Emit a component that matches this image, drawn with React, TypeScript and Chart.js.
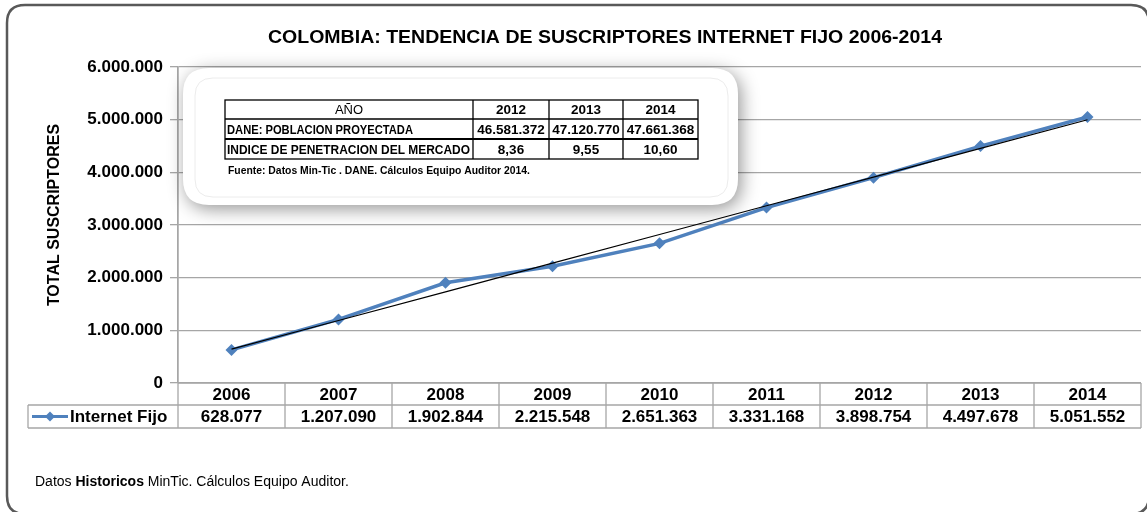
import React, { useEffect, useRef } from "react";
import { Chart, registerables } from "chart.js";

Chart.register(...registerables);

const chartTitle = "COLOMBIA: TENDENCIA DE SUSCRIPTORES INTERNET FIJO 2006-2014";
const yAxisTitle = "TOTAL SUSCRIPTORES";
const seriesName = "Internet Fijo";
const years = ["2006", "2007", "2008", "2009", "2010", "2011", "2012", "2013", "2014"];
const internetFijo = [628077, 1207090, 1902844, 2215548, 2651363, 3331168, 3898754, 4497678, 5051552];
const yMin = 0;
const yMax = 6000000;
const yStep = 1000000;

const insetHeader = "AÑO";
const insetYears = ["2012", "2013", "2014"];
const poblacionLabel = "DANE: POBLACION PROYECTADA";
const poblacionProyectada = [46581372, 47120770, 47661368];
const penetracionLabel = "INDICE DE PENETRACION DEL MERCADO";
const indicePenetracion = [8.36, 9.55, 10.6];
const insetSource = "Fuente: Datos Min-Tic . DANE. Cálculos Equipo Auditor 2014.";
const footParts = [
  { text: "Datos ", bold: false },
  { text: "Historicos", bold: true },
  { text: " MinTic. Cálculos Equipo Auditor.", bold: false },
];

const BLUE = "#4F81BD";
const GRID = "#a6a6a6";
const FONT = "'Liberation Sans', Arial, sans-serif";
const NARROW = "'Liberation Sans Narrow', 'Liberation Sans', Arial, sans-serif";

function fmtThousands(n: number): string {
  return Math.round(n).toString().replace(/\B(?=(\d{3})+(?!\d))/g, ".");
}
function fmtDecimal(n: number): string {
  return n.toFixed(2).replace(".", ",");
}

// Linear trendline (least squares) over the series, as Excel does
function trendline(values: number[]): number[] {
  const n = values.length;
  const xm = (n - 1) / 2;
  const ym = values.reduce((a, b) => a + b, 0) / n;
  let sxy = 0;
  let sxx = 0;
  values.forEach((v, i) => {
    sxy += (i - xm) * (v - ym);
    sxx += (i - xm) * (i - xm);
  });
  const slope = sxy / sxx;
  return values.map((_, i) => ym + slope * (i - xm));
}

function roundRectPath(ctx: CanvasRenderingContext2D, x: number, y: number, w: number, h: number, r: number) {
  ctx.beginPath();
  ctx.moveTo(x + r, y);
  ctx.lineTo(x + w - r, y);
  ctx.quadraticCurveTo(x + w, y, x + w, y + r);
  ctx.lineTo(x + w, y + h - r);
  ctx.quadraticCurveTo(x + w, y + h, x + w - r, y + h);
  ctx.lineTo(x + r, y + h);
  ctx.quadraticCurveTo(x, y + h, x, y + h - r);
  ctx.lineTo(x, y + r);
  ctx.quadraticCurveTo(x, y, x + r, y);
  ctx.closePath();
}

function line(ctx: CanvasRenderingContext2D, x1: number, y1: number, x2: number, y2: number) {
  ctx.beginPath();
  ctx.moveTo(x1, y1);
  ctx.lineTo(x2, y2);
  ctx.stroke();
}

// draw text stretched horizontally to a given width (left aligned at x)
function stretchedText(ctx: CanvasRenderingContext2D, text: string, x: number, y: number, width: number) {
  const w = ctx.measureText(text).width;
  const s = width / w;
  ctx.save();
  ctx.translate(x, y);
  ctx.scale(s, 1);
  ctx.textAlign = "left";
  ctx.fillText(text, 0, 0);
  ctx.restore();
}

const decorPlugin = {
  id: "decor",
  beforeDraw(chart: any) {
    const ctx: CanvasRenderingContext2D = chart.ctx;
    ctx.save();
    ctx.fillStyle = "#ffffff";
    ctx.fillRect(0, 0, chart.width, chart.height);
    roundRectPath(ctx, 7, 5, 1142, 509, 18);
    ctx.strokeStyle = "#595959";
    ctx.lineWidth = 2.5;
    ctx.stroke();
    ctx.restore();
  },
  afterDraw(chart: any) {
    const ctx: CanvasRenderingContext2D = chart.ctx;
    const area = chart.chartArea;
    const xs = chart.scales.x;
    const n = years.length;
    const cw = (area.right - area.left) / n;

    ctx.save();
    // Title
    ctx.fillStyle = "#000";
    ctx.font = `bold 18px ${FONT}`;
    ctx.textBaseline = "middle";
    stretchedText(ctx, chartTitle, 268, 38, 674);

    // Y axis title
    ctx.save();
    ctx.translate(55, 215);
    ctx.rotate(-Math.PI / 2);
    ctx.textAlign = "center";
    ctx.font = `bold 16px ${FONT}`;
    ctx.fillText(yAxisTitle, 0, 0);
    ctx.restore();

    // Data table
    const r1 = area.bottom;
    const r2 = r1 + 22;
    const r3 = r2 + 23;
    const legLeft = 28;
    ctx.strokeStyle = GRID;
    ctx.lineWidth = 1.3;
    line(ctx, area.left, area.top, area.left, r3);
    line(ctx, area.left, r1, area.right, r1);
    line(ctx, legLeft, r2, area.right, r2);
    line(ctx, legLeft, r3, area.right, r3);
    line(ctx, legLeft, r2, legLeft, r3);
    for (let i = 0; i < n; i++) {
      const xr = xs.getPixelForValue(i) + cw / 2;
      line(ctx, xr, r1, xr, r3);
    }
    ctx.fillStyle = "#000";
    ctx.font = `bold 17px ${FONT}`;
    ctx.textAlign = "center";
    for (let i = 0; i < n; i++) {
      const cx = xs.getPixelForValue(i);
      ctx.fillText(years[i], cx, (r1 + r2) / 2 + 1);
      ctx.fillText(fmtThousands(internetFijo[i]), cx, (r2 + r3) / 2 + 1);
    }
    // legend key
    const ly = (r2 + r3) / 2;
    ctx.strokeStyle = BLUE;
    ctx.lineWidth = 3;
    line(ctx, 32, ly, 68, ly);
    ctx.fillStyle = BLUE;
    ctx.beginPath();
    ctx.moveTo(50, ly - 5);
    ctx.lineTo(55, ly);
    ctx.lineTo(50, ly + 5);
    ctx.lineTo(45, ly);
    ctx.closePath();
    ctx.fill();
    ctx.fillStyle = "#000";
    ctx.textAlign = "left";
    ctx.fillText(seriesName, 70, ly + 1);

    // Inset box with shadow
    const bx = 183, by = 68, bw = 555, bh = 137;
    ctx.save();
    ctx.shadowColor = "rgba(0,0,0,0.42)";
    ctx.shadowBlur = 18;
    ctx.shadowOffsetX = 3;
    ctx.shadowOffsetY = 4;
    roundRectPath(ctx, bx, by, bw, bh, 26);
    ctx.fillStyle = "#ffffff";
    ctx.fill();
    ctx.restore();
    roundRectPath(ctx, bx + 12, by + 10, bw - 22, bh - 18, 18);
    ctx.strokeStyle = "#ececec";
    ctx.lineWidth = 1;
    ctx.stroke();

    // Inset table
    const cols = [225, 473, 549, 623, 698];
    const rows = [100, 119, 139, 159];
    ctx.strokeStyle = "#000";
    ctx.lineWidth = 1.3;
    ctx.strokeRect(cols[0], rows[0], cols[4] - cols[0], rows[3] - rows[0]);
    line(ctx, cols[0], rows[1], cols[4], rows[1]);
    ctx.lineWidth = 2;
    line(ctx, cols[0], rows[2], cols[4], rows[2]);
    ctx.lineWidth = 1.3;
    for (let c = 1; c < 4; c++) line(ctx, cols[c], rows[0], cols[c], rows[3]);

    ctx.fillStyle = "#000";
    ctx.textBaseline = "middle";
    ctx.textAlign = "center";
    ctx.font = `13px ${NARROW}`;
    ctx.fillText(insetHeader, (cols[0] + cols[1]) / 2, (rows[0] + rows[1]) / 2 + 1);
    ctx.font = `bold 13.5px ${NARROW}`;
    for (let c = 0; c < 3; c++) {
      const cx = (cols[c + 1] + cols[c + 2]) / 2;
      ctx.fillText(insetYears[c], cx, (rows[0] + rows[1]) / 2 + 1, 60);
      ctx.fillText(fmtThousands(poblacionProyectada[c]), cx, (rows[1] + rows[2]) / 2 + 1, 70);
      ctx.fillText(fmtDecimal(indicePenetracion[c]), cx, (rows[2] + rows[3]) / 2 + 1, 60);
    }
    ctx.textAlign = "left";
    ctx.fillText(poblacionLabel, cols[0] + 2, (rows[1] + rows[2]) / 2 + 1, 186);
    ctx.fillText(penetracionLabel, cols[0] + 2, (rows[2] + rows[3]) / 2 + 1, 243);
    ctx.font = `bold 10px ${NARROW}`;
    stretchedText(ctx, insetSource, 228, 171, 302);

    // Footnote
    let fx = 35;
    ctx.textBaseline = "middle";
    ctx.textAlign = "left";
    for (const p of footParts) {
      ctx.font = `${p.bold ? "bold " : ""}14px ${FONT}`;
      ctx.fillText(p.text, fx, 482);
      fx += ctx.measureText(p.text).width;
    }
    ctx.restore();
  },
};

export default function App() {
  const canvasRef = useRef<HTMLCanvasElement | null>(null);

  useEffect(() => {
    const canvas = canvasRef.current;
    if (!canvas) return;
    const trend = trendline(internetFijo);
    const chart = new Chart(canvas, {
      type: "line",
      data: {
        labels: years,
        datasets: [
          {
            label: "Tendencia",
            data: trend,
            borderColor: "#000000",
            borderWidth: 1.2,
            pointRadius: 0,
            fill: false,
            order: 0,
          },
          {
            label: seriesName,
            data: internetFijo,
            borderColor: BLUE,
            backgroundColor: BLUE,
            borderWidth: 3.5,
            pointStyle: "rectRot",
            pointRadius: 6,
            pointBackgroundColor: BLUE,
            pointBorderColor: BLUE,
            pointBorderWidth: 0,
            tension: 0,
            fill: false,
            order: 1,
          },
        ],
      },
      options: {
        responsive: false,
        animation: false,
        devicePixelRatio: 1,
        layout: { padding: { left: 0, top: 67, right: 6, bottom: 129 } },
        plugins: {
          legend: { display: false },
          title: { display: false },
          tooltip: { enabled: false },
        },
        scales: {
          x: {
            type: "category",
            display: false,
            offset: true,
          },
          y: {
            min: yMin,
            max: yMax,
            afterFit: (scale: any) => {
              scale.width = 178;
            },
            ticks: {
              stepSize: yStep,
              padding: 7,
              color: "#000",
              font: { family: FONT, size: 17, weight: "bold" },
              callback: (v: any) => fmtThousands(Number(v)),
            },
            grid: {
              color: GRID,
              lineWidth: 1.3,
              tickLength: 8,
              drawTicks: true,
            },
            border: { color: GRID, width: 1.3 },
          },
        },
      },
      plugins: [decorPlugin],
    });
    return () => chart.destroy();
  }, []);

  return (
    <div style={{ position: "absolute", left: 0, top: 0, width: 1147, height: 512 }}>
      <canvas ref={canvasRef} width={1147} height={512} style={{ width: 1147, height: 512, display: "block" }} />
    </div>
  );
}
